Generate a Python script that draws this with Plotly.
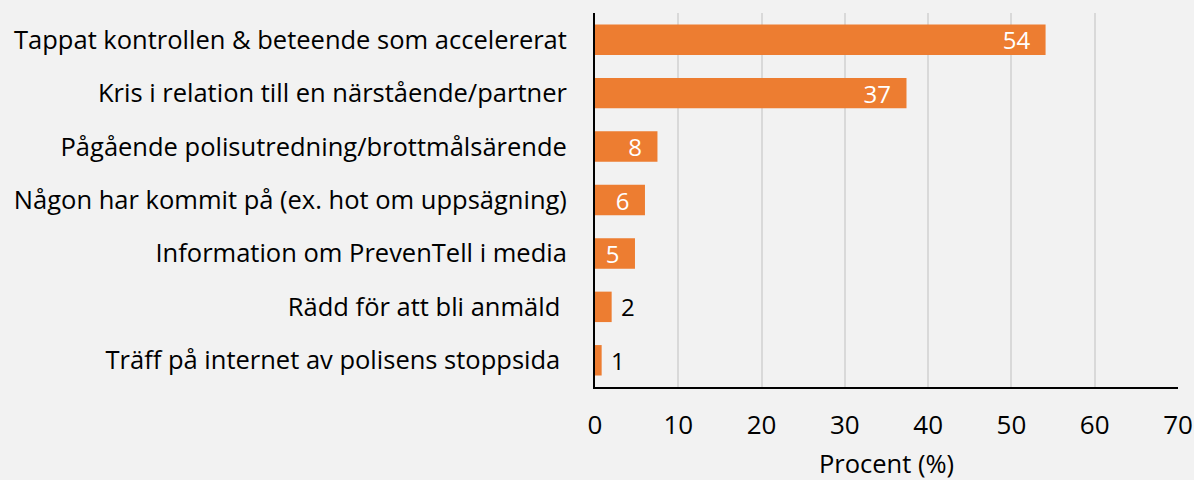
import plotly.graph_objects as go

categories = [
    "Tappat kontrollen & beteende som accelererat",
    "Kris i relation till en närstående/partner",
    "Pågående polisutredning/brottmålsärende",
    "Någon har kommit på (ex. hot om uppsägning)",
    "Information om PrevenTell i media",
    "Rädd för att bli anmäld\u00a0",
    "Träff på internet av polisens stoppsida\u00a0",
]
values = [54.1, 37.4, 7.5, 6.0, 4.8, 2.0, 0.8]
labels = ["54", "37", "8", "6", "5", "2", "1"]
label_positions = ["inside", "inside", "inside", "inside", "inside", "outside", "outside"]
x_ticks = [0, 10, 20, 30, 40, 50, 60, 70]

FONT = "Open Sans"
templates = ["%{text}\u00a0\u00a0" if p == "inside" else "\u00a0%{text}" for p in label_positions]

fig = go.Figure(
    go.Bar(
        y=categories,
        x=values,
        orientation="h",
        marker=dict(color="#ED7D31", line=dict(width=0)),
        text=labels,
        texttemplate=templates,
        textposition=label_positions,
        textangle=0,
        insidetextanchor="end",
        insidetextfont=dict(color="white", size=24, family=FONT),
        outsidetextfont=dict(color="black", size=24, family=FONT),
        constraintext="none",
        cliponaxis=False,
        width=0.57,
        hoverinfo="skip",
    )
)

fig.update_layout(
    width=1194,
    height=480,
    margin=dict(l=595, r=16, t=13, b=93),
    paper_bgcolor="#F2F2F2",
    plot_bgcolor="#F2F2F2",
    font=dict(family=FONT, size=25, color="black"),
    showlegend=False,
)
fig.update_xaxes(
    automargin=False,
    range=[0, 70],
    tickvals=x_ticks,
    showgrid=True,
    gridcolor="#D9D9D9",
    gridwidth=2,
    showline=True,
    linecolor="black",
    linewidth=2,
    zeroline=False,
    ticks="outside",
    ticklen=14,
    tickcolor="rgba(0,0,0,0)",
    title=dict(text="Procent (%)", standoff=18, font=dict(size=25.5)),
    tickfont=dict(size=26),
)
fig.update_yaxes(
    automargin=False,
    autorange="reversed",
    showline=True,
    linecolor="black",
    linewidth=2,
    showgrid=False,
    ticks="outside",
    ticklen=21,
    tickcolor="rgba(0,0,0,0)",
    tickfont=dict(size=25.5),
)

fig.write_html(
    "out.html",
    config={"displayModeBar": False},
    post_script="document.body.style.margin='0';document.body.style.background='#F2F2F2';",
)
